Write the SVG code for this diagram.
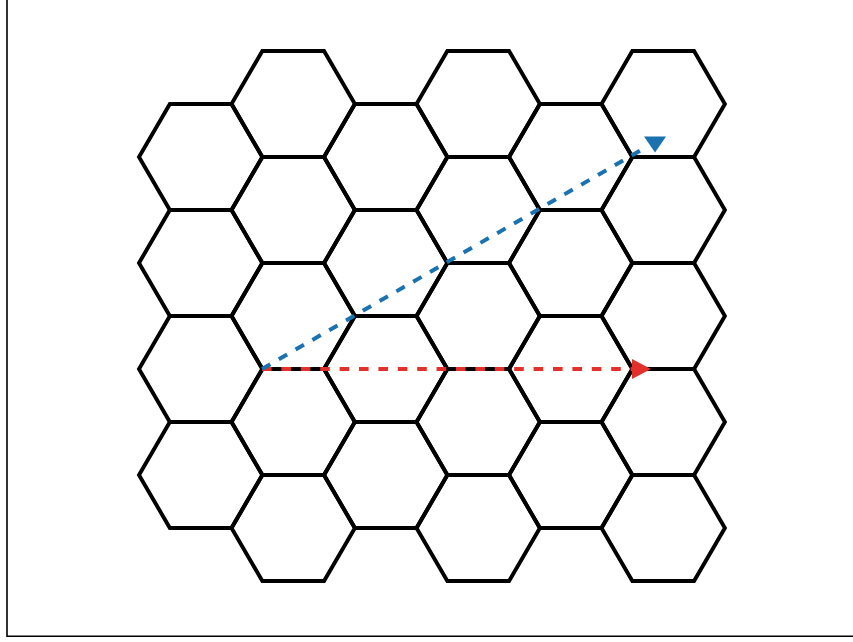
<svg xmlns="http://www.w3.org/2000/svg" width="853" height="642" viewBox="0 0 853 642">
<defs>
<style>
.hex{fill:none;stroke:#000;stroke-width:3.9;stroke-linejoin:miter}
.frame{fill:none;stroke:#000;stroke-width:1.6}
.red{stroke:#e3302a;stroke-width:4;stroke-dasharray:9.6 9.8;fill:none}
.blue{stroke:#1a72b0;stroke-width:4;stroke-dasharray:9.6 9.8;fill:none}
</style>
<polygon id="h" points="61.7,0 30.85,53 -30.85,53 -61.7,0 -30.85,-53 30.85,-53"/>
</defs>
<rect width="853" height="642" fill="#fff"/>
<path class="frame" d="M7,0 V636.3 H853"/>
<g id="col1">
<g id="hex-1-1"><use href="#h" class="hex" x="200.7" y="157"/></g>
<g id="hex-1-2"><use href="#h" class="hex" x="200.7" y="263"/></g>
<g id="hex-1-3"><use href="#h" class="hex" x="200.7" y="369"/></g>
<g id="hex-1-4"><use href="#h" class="hex" x="200.7" y="475"/></g>
</g>
<g id="col2">
<g id="hex-2-1"><use href="#h" class="hex" x="293.2" y="104"/></g>
<g id="hex-2-2"><use href="#h" class="hex" x="293.2" y="210"/></g>
<g id="hex-2-3"><use href="#h" class="hex" x="293.2" y="316"/></g>
<g id="hex-2-4"><use href="#h" class="hex" x="293.2" y="422"/></g>
<g id="hex-2-5"><use href="#h" class="hex" x="293.2" y="528"/></g>
</g>
<g id="col3">
<g id="hex-3-1"><use href="#h" class="hex" x="385.7" y="157"/></g>
<g id="hex-3-2"><use href="#h" class="hex" x="385.7" y="263"/></g>
<g id="hex-3-3"><use href="#h" class="hex" x="385.7" y="369"/></g>
<g id="hex-3-4"><use href="#h" class="hex" x="385.7" y="475"/></g>
</g>
<g id="col4">
<g id="hex-4-1"><use href="#h" class="hex" x="478.2" y="104"/></g>
<g id="hex-4-2"><use href="#h" class="hex" x="478.2" y="210"/></g>
<g id="hex-4-3"><use href="#h" class="hex" x="478.2" y="316"/></g>
<g id="hex-4-4"><use href="#h" class="hex" x="478.2" y="422"/></g>
<g id="hex-4-5"><use href="#h" class="hex" x="478.2" y="528"/></g>
</g>
<g id="col5">
<g id="hex-5-1"><use href="#h" class="hex" x="570.7" y="157"/></g>
<g id="hex-5-2"><use href="#h" class="hex" x="570.7" y="263"/></g>
<g id="hex-5-3"><use href="#h" class="hex" x="570.7" y="369"/></g>
<g id="hex-5-4"><use href="#h" class="hex" x="570.7" y="475"/></g>
</g>
<g id="col6">
<g id="hex-6-1"><use href="#h" class="hex" x="663.2" y="104"/></g>
<g id="hex-6-2"><use href="#h" class="hex" x="663.2" y="210"/></g>
<g id="hex-6-3"><use href="#h" class="hex" x="663.2" y="316"/></g>
<g id="hex-6-4"><use href="#h" class="hex" x="663.2" y="422"/></g>
<g id="hex-6-5"><use href="#h" class="hex" x="663.2" y="528"/></g>
</g>
<g id="connectors">
<g id="red-arrow">
<line class="red" x1="262" y1="369" x2="632" y2="369"/>
<polygon points="632,359 632,379 651,369" fill="#e3302a"/>
</g>
<g id="blue-arrow">
<line class="blue" x1="262" y1="369" x2="643" y2="149"/>
<polygon points="644,136.5 666,136.5 655,152.5" fill="#1a72b0"/>
</g>
</g>
</svg>
